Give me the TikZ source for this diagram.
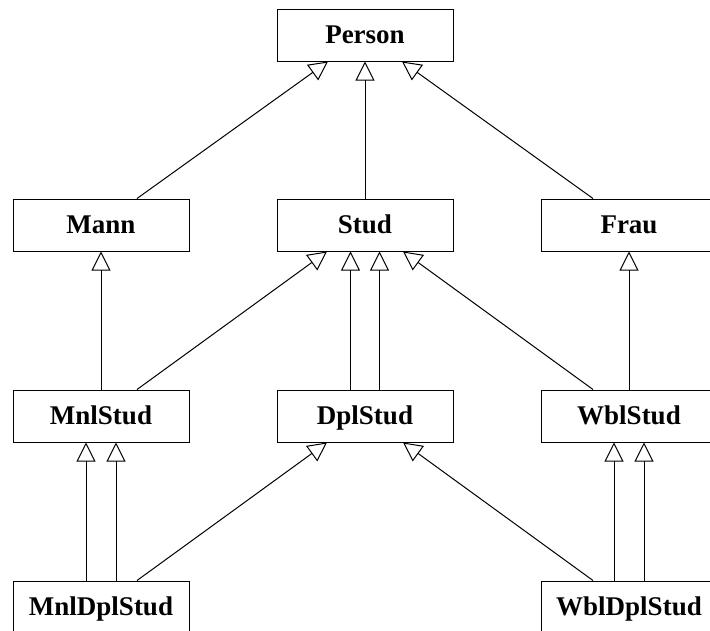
\documentclass[tikz,border=0pt]{standalone}
\usepackage{fontspec}
\setmainfont{Liberation Serif}
\usetikzlibrary{arrows.meta}
\tikzset{
  cls/.style={draw, line width=1pt, fill=white, minimum width=176pt, minimum height=52pt, inner sep=0pt,
    text height=20pt, text depth=4pt,
    font=\fontsize{27}{31}\selectfont\bfseries},
  inh/.style={line width=1pt, -{Triangle[open,length=19pt,width=19pt,line width=1pt]}}
}
\begin{document}
\begin{tikzpicture}[x=1pt,y=-1pt]
\clip (0,0) rectangle (710,630);
\fill[white] (0,0) rectangle (710,630);
\node[cls] (person) at (365,35) {Person};
\node[cls] (mann) at (101,225) {Mann};
\node[cls] (stud) at (365,225) {Stud};
\node[cls] (frau) at (629,225) {Frau};
\node[cls] (mnlstud) at (101,416) {MnlStud};
\node[cls] (dplstud) at (365,416) {DplStud};
\node[cls] (wblstud) at (629,416) {WblStud};
\node[cls] (mnldplstud) at (101,607) {MnlDplStud};
\node[cls] (wbldplstud) at (629,607) {WblDplStud};
% level 1
\draw[inh] ([xshift=36pt]mann.north) -- ([xshift=-37pt]person.south);
\draw[inh] (stud.north) -- (person.south);
\draw[inh] ([xshift=-36pt]frau.north) -- ([xshift=37pt]person.south);
% level 2
\draw[inh] (mnlstud.north) -- (mann.south);
\draw[inh] ([xshift=36pt]mnlstud.north) -- ([xshift=-38pt]stud.south);
\draw[inh] ([xshift=-14.5pt]dplstud.north) -- ([xshift=-14.5pt]stud.south);
\draw[inh] ([xshift=14.5pt]dplstud.north) -- ([xshift=14.5pt]stud.south);
\draw[inh] ([xshift=-36pt]wblstud.north) -- ([xshift=38pt]stud.south);
\draw[inh] (wblstud.north) -- (frau.south);
% level 3
\draw[inh] ([xshift=-15pt]mnldplstud.north) -- ([xshift=-15pt]mnlstud.south);
\draw[inh] ([xshift=15pt]mnldplstud.north) -- ([xshift=15pt]mnlstud.south);
\draw[inh] ([xshift=36pt]mnldplstud.north) -- ([xshift=-38pt]dplstud.south);
\draw[inh] ([xshift=-36pt]wbldplstud.north) -- ([xshift=38pt]dplstud.south);
\draw[inh] ([xshift=-15pt]wbldplstud.north) -- ([xshift=-15pt]wblstud.south);
\draw[inh] ([xshift=15pt]wbldplstud.north) -- ([xshift=15pt]wblstud.south);
\end{tikzpicture}
\end{document}
